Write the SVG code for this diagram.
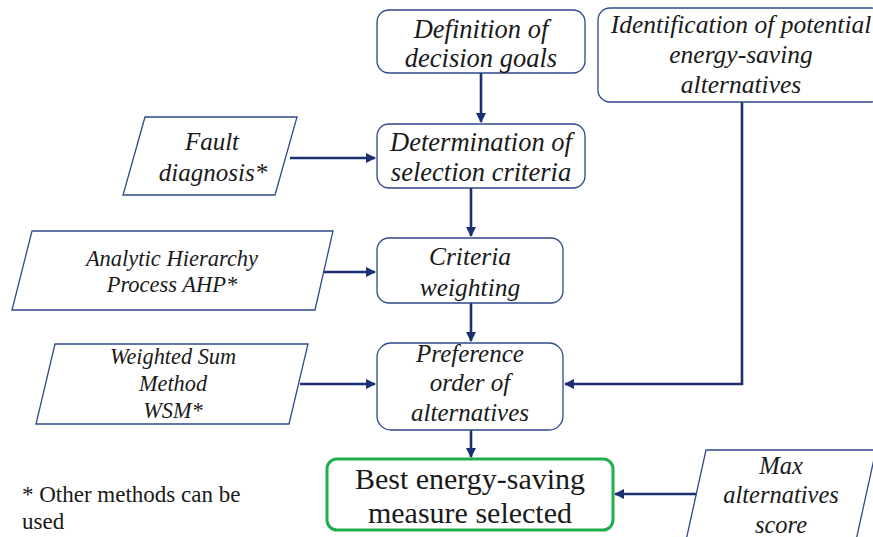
<svg xmlns="http://www.w3.org/2000/svg" width="873" height="537" viewBox="0 0 873 537">
<defs>
<marker id="ah" viewBox="0 0 10 10" refX="9" refY="5" markerWidth="4" markerHeight="4" orient="auto" markerUnits="strokeWidth">
<path d="M0,0 L10,5 L0,10 z" fill="#1b2f73"/>
</marker>
</defs>
<style>
.box{fill:#fff;stroke:#2e4a8a;stroke-width:1.3}
.para{fill:#fff;stroke:#2e4a8a;stroke-width:1.3}
.green{fill:#fff;stroke:#1fae4b;stroke-width:3}
.conn{fill:none;stroke:#1b2f73;stroke-width:2.6;marker-end:url(#ah)}
text{font-family:"Liberation Serif","Times New Roman",serif;fill:#1a1a1a;text-anchor:middle}
.it{font-style:italic}
</style>
<rect width="873" height="537" fill="#fff"/>
<g id="connectors">
<path class="conn" d="M481,73 L481,122"/>
<path class="conn" d="M290,158 L375,158"/>
<path class="conn" d="M471,188 L471,236"/>
<path class="conn" d="M324,272 L375,272"/>
<path class="conn" d="M471,303 L471,341"/>
<path class="conn" d="M300,384 L375,384"/>
<path class="conn" d="M742,102 L742,384 L565,384"/>
<path class="conn" d="M471,430 L471,457"/>
<path class="conn" d="M697,494 L615,494"/>
</g>
<g id="definition">
<rect class="box" x="377" y="10" width="208" height="63" rx="12"/>
<text class="it" x="481" y="38" font-size="26.5">Definition of</text>
<text class="it" x="481" y="67" font-size="26.5">decision goals</text>
</g>
<g id="identification">
<rect class="box" x="598" y="8" width="285" height="94" rx="12"/>
<text class="it" x="741" y="33" font-size="25.5">Identification of potential</text>
<text class="it" x="741" y="63" font-size="25.5">energy-saving</text>
<text class="it" x="741" y="93" font-size="25.5">alternatives</text>
</g>
<g id="determination">
<rect class="box" x="377" y="124" width="208" height="64" rx="12"/>
<text class="it" x="481" y="151" font-size="26.5">Determination of</text>
<text class="it" x="481" y="181" font-size="26.5">selection criteria</text>
</g>
<g id="fault">
<polygon class="para" points="145,117 297,117 275,195 123,195"/>
<text class="it" x="212" y="150" font-size="25">Fault</text>
<text class="it" x="213" y="181" font-size="25">diagnosis*</text>
</g>
<g id="criteria">
<rect class="box" x="377" y="238" width="186" height="65" rx="12"/>
<text class="it" x="470" y="265" font-size="25.5">Criteria</text>
<text class="it" x="470" y="296" font-size="25.5">weighting</text>
</g>
<g id="ahp">
<polygon class="para" points="32,231 333,231 315,310 12,310"/>
<text class="it" x="172" y="266" font-size="22.5">Analytic Hierarchy</text>
<text class="it" x="172" y="292" font-size="22.5">Process AHP*</text>
</g>
<g id="preference">
<rect class="box" x="377" y="343" width="186" height="87" rx="14"/>
<text class="it" x="470" y="362" font-size="25">Preference</text>
<text class="it" x="470" y="391" font-size="25">order of</text>
<text class="it" x="470" y="421" font-size="25">alternatives</text>
</g>
<g id="wsm">
<polygon class="para" points="55,344 308,344 289,424 36,424"/>
<text class="it" x="173" y="364" font-size="22.3">Weighted Sum</text>
<text class="it" x="173" y="391" font-size="22.3">Method</text>
<text class="it" x="173" y="418" font-size="22.3">WSM*</text>
</g>
<g id="best">
<rect class="green" x="327" y="459" width="286" height="71" rx="10"/>
<text x="470" y="489" font-size="30">Best energy-saving</text>
<text x="470" y="523" font-size="30">measure selected</text>
</g>
<g id="maxscore">
<polygon class="para" points="706,450 876,450 855,545 685,545"/>
<text class="it" x="781" y="474" font-size="24.5">Max</text>
<text class="it" x="781" y="503" font-size="24.5">alternatives</text>
<text class="it" x="781" y="533" font-size="24.5">score</text>
</g>
<g id="footnote">
<text x="22" y="502" font-size="23" style="text-anchor:start">* Other methods can be</text>
<text x="22" y="529" font-size="23" style="text-anchor:start">used</text>
</g>
</svg>
